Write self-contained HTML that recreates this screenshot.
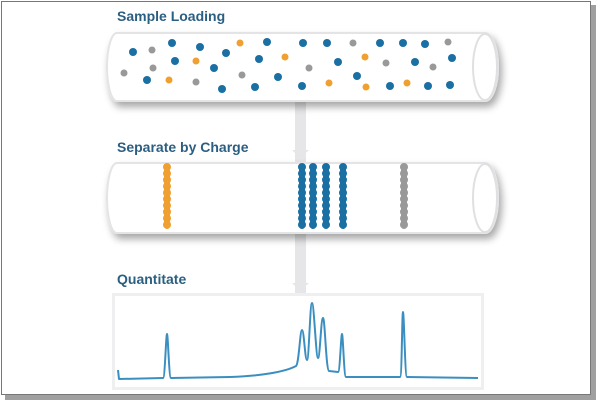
<!DOCTYPE html>
<html><head><style>
body{margin:0;width:600px;height:404px;background:#fff;overflow:hidden}
</style></head><body>
<svg width="600" height="404" viewBox="0 0 600 404" xmlns="http://www.w3.org/2000/svg" style="font-family:'Liberation Sans',sans-serif">
<defs>
<filter id="sh" x="-10%" y="-30%" width="130%" height="180%"><feGaussianBlur in="SourceAlpha" stdDeviation="4"/><feOffset dx="3" dy="5"/><feComponentTransfer><feFuncA type="linear" slope="0.35"/></feComponentTransfer><feMerge><feMergeNode/><feMergeNode in="SourceGraphic"/></feMerge></filter>
</defs>
<rect x="5" y="5" width="591" height="395" fill="#777" opacity="0.7"/>
<rect x="1.5" y="1.5" width="589" height="393" fill="#fff" stroke="#777"/>
<rect x="295" y="100" width="11" height="62" fill="#e6e6e8"/>
<rect x="295" y="232" width="11" height="64" fill="#e6e6e8"/>
<polygon points="292,150 309,150 300,158" fill="#e6e6e8"/>
<polygon points="292,283 309,283 300,291" fill="#e6e6e8"/>
<text x="117" y="21" font-size="14" font-weight="bold" fill="#2b5f82">Sample Loading</text>
<text x="117" y="152" font-size="14" font-weight="bold" fill="#2b5f82">Separate by Charge</text>
<text x="117" y="284" font-size="14" font-weight="bold" fill="#2b5f82">Quantitate</text>
<g filter="url(#sh)">
<path d="M117,33 H485 A13,34 0 0 1 485,101 H117 A10,34 0 0 1 117,33 Z" fill="#fff" stroke="#e4e4e6" stroke-width="2"/>
</g>
<ellipse cx="485" cy="67" rx="12" ry="33" fill="#fff" stroke="#e0e0e2" stroke-width="2"/>
<g>
<circle cx="133" cy="52" r="4" fill="#1a6fa3"/><circle cx="152" cy="50" r="3.5" fill="#999"/><circle cx="172" cy="43" r="4" fill="#1a6fa3"/><circle cx="200" cy="47" r="4" fill="#1a6fa3"/><circle cx="240" cy="43" r="3.5" fill="#f0a030"/><circle cx="267" cy="42" r="4" fill="#1a6fa3"/><circle cx="303" cy="43" r="4" fill="#1a6fa3"/><circle cx="327" cy="43" r="4" fill="#1a6fa3"/><circle cx="353" cy="43" r="3.5" fill="#999"/><circle cx="380" cy="43" r="4" fill="#1a6fa3"/><circle cx="403" cy="43" r="4" fill="#1a6fa3"/><circle cx="425" cy="44" r="4" fill="#1a6fa3"/><circle cx="448" cy="42" r="3.5" fill="#999"/>
<circle cx="175" cy="61" r="4" fill="#1a6fa3"/><circle cx="196" cy="61" r="3.5" fill="#f0a030"/><circle cx="226" cy="53" r="4" fill="#1a6fa3"/><circle cx="259" cy="59" r="4" fill="#1a6fa3"/><circle cx="285" cy="57" r="3.5" fill="#f0a030"/><circle cx="338" cy="62" r="4" fill="#1a6fa3"/><circle cx="365" cy="57" r="3.5" fill="#f0a030"/><circle cx="386" cy="63" r="3.5" fill="#999"/><circle cx="415" cy="62" r="4" fill="#1a6fa3"/><circle cx="452" cy="58" r="4" fill="#1a6fa3"/>
<circle cx="124" cy="73" r="3.5" fill="#999"/><circle cx="153" cy="68" r="3.5" fill="#999"/><circle cx="214" cy="68" r="4" fill="#1a6fa3"/><circle cx="242" cy="75" r="3.5" fill="#999"/><circle cx="309" cy="68" r="3.5" fill="#999"/><circle cx="433" cy="67" r="3.5" fill="#999"/>
<circle cx="147" cy="80" r="4" fill="#1a6fa3"/><circle cx="169" cy="80" r="3.5" fill="#f0a030"/><circle cx="196" cy="82" r="3.5" fill="#999"/><circle cx="222" cy="89" r="4" fill="#1a6fa3"/><circle cx="255" cy="87" r="4" fill="#1a6fa3"/><circle cx="278" cy="77" r="4" fill="#1a6fa3"/><circle cx="302" cy="86" r="4" fill="#1a6fa3"/><circle cx="329" cy="83" r="3.5" fill="#f0a030"/><circle cx="357" cy="76" r="4" fill="#1a6fa3"/><circle cx="366" cy="87" r="3.5" fill="#f0a030"/><circle cx="390" cy="86" r="4" fill="#1a6fa3"/><circle cx="407" cy="83" r="3.5" fill="#f0a030"/><circle cx="428" cy="86" r="4" fill="#1a6fa3"/><circle cx="450" cy="85" r="4" fill="#1a6fa3"/>
</g>
<g filter="url(#sh)">
<path d="M117,163 H485 A13,35 0 0 1 485,233 H117 A10,35 0 0 1 117,163 Z" fill="#fff" stroke="#e4e4e6" stroke-width="2"/>
</g>
<ellipse cx="485" cy="198" rx="12" ry="34" fill="#fff" stroke="#e0e0e2" stroke-width="2"/>
<g stroke-linecap="round" stroke-width="8" stroke-dasharray="0.1 6.3">
<line x1="167" y1="167" x2="167" y2="227" stroke="#f0a030"/>
<line x1="302" y1="167" x2="302" y2="227" stroke="#1a6fa3"/>
<line x1="313" y1="167" x2="313" y2="227" stroke="#1a6fa3"/>
<line x1="326" y1="167" x2="326" y2="227" stroke="#1a6fa3"/>
<line x1="343" y1="167" x2="343" y2="227" stroke="#1a6fa3"/>
<line x1="404" y1="167" x2="404" y2="227" stroke="#999"/>
</g>
<g stroke-width="6" stroke-linecap="round">
<line x1="167" y1="168" x2="167" y2="226" stroke="#f0a030"/>
<line x1="302" y1="168" x2="302" y2="226" stroke="#1a6fa3"/>
<line x1="313" y1="168" x2="313" y2="226" stroke="#1a6fa3"/>
<line x1="326" y1="168" x2="326" y2="226" stroke="#1a6fa3"/>
<line x1="343" y1="168" x2="343" y2="226" stroke="#1a6fa3"/>
<line x1="404" y1="168" x2="404" y2="226" stroke="#999"/>
</g>
<rect x="112" y="293" width="372" height="97" fill="#efeff1"/>
<rect x="115" y="296" width="366" height="91" fill="#fff"/>
<path fill="none" stroke="#3b8fc0" stroke-width="2" stroke-linejoin="round" d="M118,370 L119,379 L163,378 C165,378 166,334 167,334 C168,334 169,378 171,378 L230,377 C260,376 285,372 296,366 C299,364 300,330 302,330 C304,330 305,360 307,360 C309,360 310,303 312,303 C314,303 316,358 318,358 C320,358 321,318 323,318 C325,318 326,370 329,371 L338,372 C340,372 341,334 342,334 C343,334 344,377 346,377 L400,377 C402,377 402,312 403,312 C404,312 405,377 407,377 L478,378"/>
</svg>
</body></html>
